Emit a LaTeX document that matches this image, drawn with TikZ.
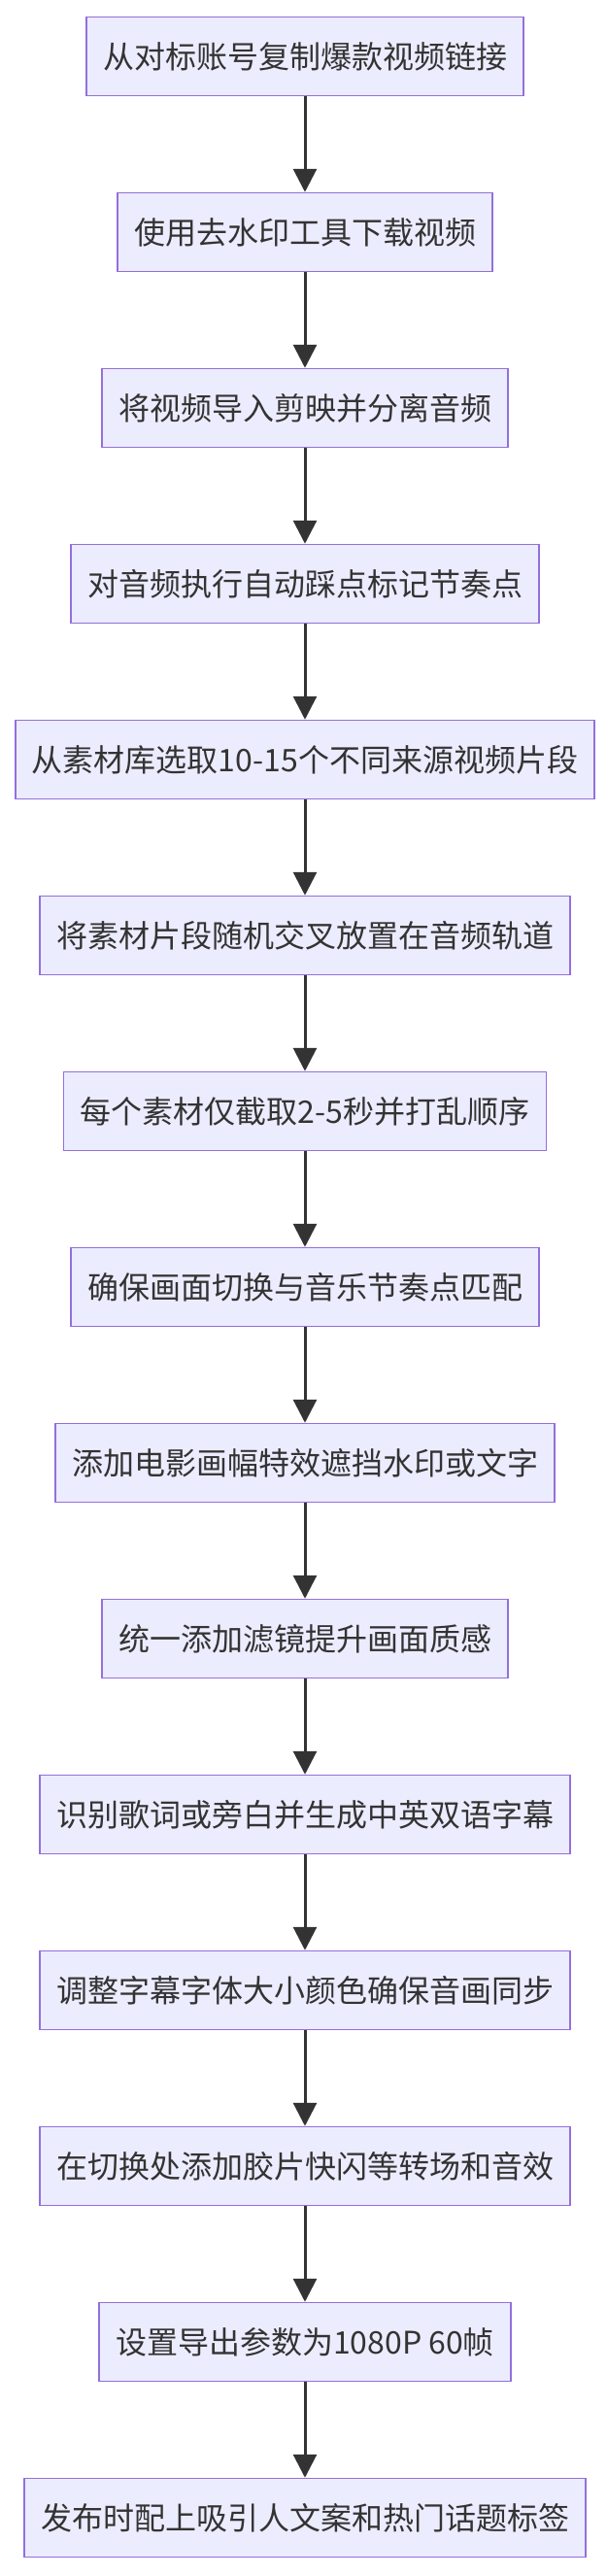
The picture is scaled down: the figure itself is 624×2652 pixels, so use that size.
\documentclass[tikz,border=0pt]{standalone}
\usepackage{fontspec}
\setmainfont{Noto Sans CJK SC}
\usetikzlibrary{arrows.meta}
\definecolor{boxfill}{HTML}{ECECFF}
\definecolor{boxline}{HTML}{9370DB}
\definecolor{arr}{HTML}{333333}
\begin{document}
\begin{tikzpicture}[x=1pt,y=-1pt,
  box/.style={draw=boxline,fill=boxfill,line width=1.5pt,minimum height=81pt,inner xsep=17pt,
    font=\fontsize{32}{36}\selectfont,text=arr},
  flow/.style={draw=arr,line width=3pt,-{Triangle[length=24pt,width=24pt]}}]
\useasboundingbox[fill=white] (0,0) rectangle (624,2652);
\foreach \t [count=\i from 0] in {从对标账号复制爆款视频链接,使用去水印工具下载视频,将视频导入剪映并分离音频,对音频执行自动踩点标记节奏点,从素材库选取10-15个不同来源视频片段,将素材片段随机交叉放置在音频轨道,每个素材仅截取2-5秒并打乱顺序,确保画面切换与音乐节奏点匹配,添加电影画幅特效遮挡水印或文字,统一添加滤镜提升画面质感,识别歌词或旁白并生成中英双语字幕,调整字幕字体大小颜色确保音画同步,在切换处添加胶片快闪等转场和音效,设置导出参数为1080P 60帧,发布时配上吸引人文案和热门话题标签}
  {\node[box] (n\i) at (314,58+181*\i) {\t};}
\foreach \i [evaluate=\i as \j using int(\i+1)] in {0,...,13}
  {\draw[flow] (n\i) -- (n\j);}
\end{tikzpicture}
\end{document}
